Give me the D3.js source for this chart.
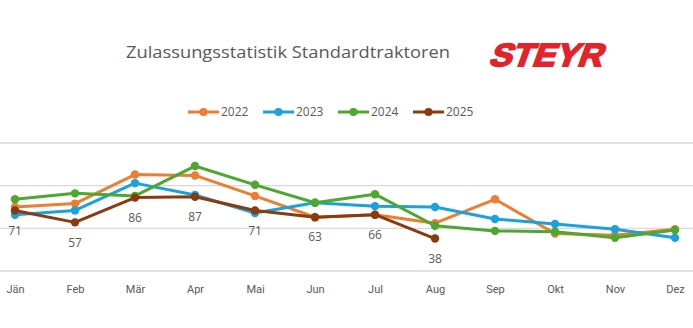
<!DOCTYPE html>
<html><head><meta charset="utf-8">
<script src="https://cdn.jsdelivr.net/npm/d3@7"></script>
<style>body{margin:0;background:#fff;} svg{display:block;}</style>
</head><body>
<svg id="c" width="693" height="328"></svg>
<script>
const months = ["Jän","Feb","Mär","Apr","Mai","Jun","Jul","Aug","Sep","Okt","Nov","Dez"];
const years = ["2022","2023","2024","2025"];
const colors = ["#ed7d31","#1ba1dc","#4ea72e","#8b3a0f"];
const v2022 = [75,79,113,112,88,63,66,56,84,44,42,49];
const v2023 = [66,71,103,89,68,80,76,75,61,55,49,39];
const v2024 = [84,91,88,123,101,80,90,53,47,46,39,48];
const v2025 = [71,57,86,87,71,63,66,38];
const yTicks = [0,50,100,150];
const series = [v2022,v2023,v2024,v2025];

const svg = d3.select("#c");
const x = d3.scalePoint().domain(months).range([15,675]);
const y = d3.scaleLinear().domain([0,150]).range([271,143]);
const grey = "#595959";

// gridlines
svg.append("g").selectAll("line").data(yTicks).join("line")
  .attr("x1",0).attr("x2",693).attr("y1",d=>y(d)).attr("y2",d=>y(d))
  .attr("stroke","#d9d9d9").attr("stroke-width",1.3);

// x axis labels
const xa = svg.append("g").attr("transform","translate(0,289)")
  .call(d3.axisBottom(x).tickSize(0).tickPadding(0));
xa.select(".domain").remove();
xa.selectAll("text").attr("fill",grey).attr("font-family","Roboto, sans-serif")
  .attr("font-size",11).attr("dy","0.35em");

// lines
const line = d3.line().x((d,i)=>x(months[i])).y(d=>y(d));
series.forEach((s,k)=>{
  const g = svg.append("g");
  g.append("path").datum(s).attr("d",line).attr("fill","none")
    .attr("stroke",colors[k]).attr("stroke-width",3).attr("stroke-linejoin","round");
  g.selectAll("circle").data(s).join("circle")
    .attr("cx",(d,i)=>x(months[i])).attr("cy",d=>y(d)).attr("r",4.2).attr("fill",colors[k]);
});

// data labels for 2025
svg.append("g").selectAll("text").data(v2025).join("text")
  .attr("x",(d,i)=>x(months[i])).attr("y",d=>y(d)+20).attr("dy","0.35em")
  .attr("text-anchor","middle").attr("fill",grey).attr("font-family","Open Sans, sans-serif")
  .attr("font-size",12).text(d=>d);

// title
svg.append("text").attr("x",126).attr("y",52).attr("dy","0.35em")
  .attr("fill",grey).attr("font-family","Open Sans, sans-serif").attr("font-size",17)
  .attr("textLength",324).attr("lengthAdjust","spacingAndGlyphs")
  .text("Zulassungsstatistik Standardtraktoren");

// logo
svg.append("text").attr("x",0).attr("y",0)
  .attr("transform","translate(488,65.5) skewX(-20)")
  .attr("fill","#e3232b").attr("stroke","#e3232b").attr("stroke-width",1.8)
  .attr("font-family","Liberation Sans, Arial, sans-serif")
  .attr("font-weight","bold").attr("font-size",32)
  .attr("textLength",113).attr("lengthAdjust","spacingAndGlyphs")
  .text("STEYR");

// legend
const lx = [188,263,338,413];
const lg = svg.append("g").selectAll("g").data(years).join("g")
  .attr("transform",(d,i)=>`translate(${lx[i]},112)`);
lg.append("line").attr("x1",0).attr("x2",31).attr("stroke",(d,i)=>colors[i]).attr("stroke-width",3);
lg.append("circle").attr("cx",15.5).attr("r",4).attr("fill",(d,i)=>colors[i]);
lg.append("text").attr("x",33).attr("dy","0.35em").attr("fill",grey)
  .attr("font-family","Open Sans, sans-serif").attr("font-size",12).text(d=>d);
</script>
</body></html>
